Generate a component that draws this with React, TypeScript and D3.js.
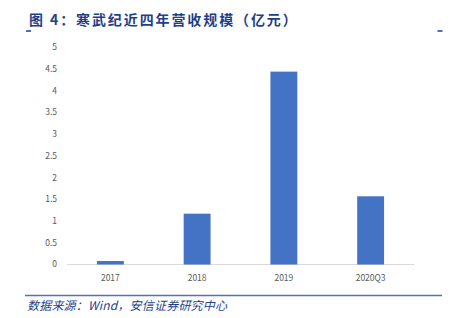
import React from "react";
import * as d3 from "d3";

const categories = ["2017", "2018", "2019", "2020Q3"];
const revenue = [0.08, 1.17, 4.44, 1.57];
const yTicks = [0, 0.5, 1, 1.5, 2, 2.5, 3, 3.5, 4, 4.5, 5];
const titleText = "图 4：寒武纪近四年营收规模（亿元）";
const sourceText = "数据来源：Wind，安信证券研究中心";

export default function App() {
  const W = 452, H = 318;
  const x = d3.scaleBand<string>().domain(categories).range([67, 414]).paddingInner(0.69).paddingOuter(0.345);
  const y = d3.scaleLinear().domain([0, 5]).range([264.5, 47.3]);
  const font = "'Microsoft YaHei', 'Noto Sans CJK SC', 'Open Sans', sans-serif";
  return (
    <svg width={W} height={H} style={{ position: "absolute", left: 0, top: 0, background: "#fff" }}>
      <text x={29} y={25} fontSize={14} fontWeight="bold" fill="#1F3F8A" letterSpacing={1.9}
        fontFamily="'Noto Sans CJK SC', sans-serif">{titleText}</text>
      <rect x={26} y={30} width={5} height={2} fill="#4472C4" />
      <rect x={437.5} y={30} width={5} height={2} fill="#4472C4" />
      <line x1={67} x2={414} y1={y(0)} y2={y(0)} stroke="#D9D9D9" strokeWidth={1} />
      {yTicks.map((t) => (
        <text key={t} x={57} y={y(t)} dy="0.35em" textAnchor="end" fontSize={8.5} fill="#595959" fontFamily={font}>{t}</text>
      ))}
      {categories.map((c, i) => (
        <rect key={c} x={x(c)} width={x.bandwidth()} y={y(revenue[i])} height={y(0) - y(revenue[i])} fill="#4472C4" />
      ))}
      {categories.map((c) => (
        <text key={c} x={(x(c) ?? 0) + x.bandwidth() / 2} y={278} dy="0.35em" textAnchor="middle" fontSize={8.5} fill="#595959" fontFamily={font}>{c}</text>
      ))}
      <line x1={25} x2={442} y1={295.5} y2={295.5} stroke="#4F72B8" strokeWidth={1.6} />
      <text x={27} y={310} fontSize={12} fontStyle="italic" fill="#1F3F8A" letterSpacing={0.2}
        fontFamily="'Noto Sans CJK SC', 'Liberation Sans', sans-serif">{sourceText}</text>
    </svg>
  );
}
